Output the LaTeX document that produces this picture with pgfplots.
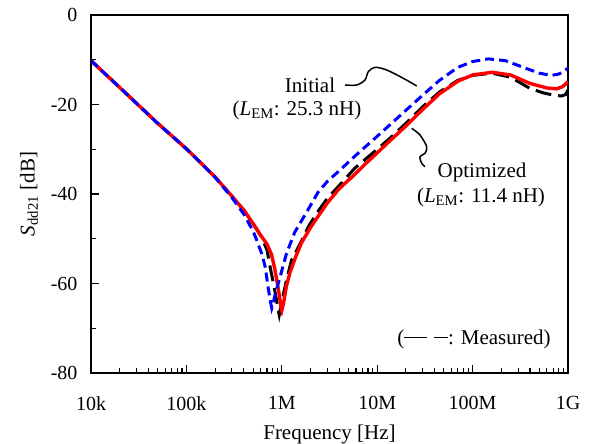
\documentclass[border=0pt]{standalone}
\usepackage{fontspec}
\setmainfont{Liberation Serif}
\usepackage{pgfplots}
\pgfplotsset{compat=1.18}
\begin{document}
\begin{tikzpicture}
\newcommand{\fs}{\fontsize{20}{24}\selectfont}
\newcommand{\fl}{\fontsize{21}{25}\selectfont}
\begin{axis}[
  scale only axis, width=477pt, height=358pt,
  xmode=log, xmin=1e4, xmax=1e9, ymin=-80, ymax=0,
  xtick={1e4,1e5,1e6,1e7,1e8,1e9},
  xticklabels={10k,100k,1M,10M,100M,1G},
  ytick={-80,-60,-40,-20,0},
  yticklabels={-80,-60,-40,-20,0},
  minor ytick={-70,-50,-30,-10},
  tick align=inside, xtick pos=bottom, ytick pos=left,
  major tick length=8pt, minor tick length=5pt,
  every tick/.style={black, line width=1.1pt},
  axis line style={line width=1.3pt},
  tick label style={font=\fs},
  yticklabel style={xshift=-10pt},
  xticklabel style={yshift=-20pt},
  label style={font=\fl},
  xlabel={Frequency [Hz]},
  xlabel style={yshift=-7pt},
  ylabel={\textit{S}\textsubscript{dd21} [dB]},
  ylabel style={yshift=6pt},
  clip=true,
]
% Measured
\addplot[black, line width=3pt, dash pattern=on 16pt off 7pt] coordinates {
(1e4,-10.2)(2e4,-16.2)(5e4,-24.2)(1e5,-29.9)(2e5,-36.2)(3e5,-40.5)(4e5,-43.6)(5e5,-46.6)(6e5,-49.3)
(7e5,-52.5)(7.5e5,-56)(8e5,-59)(8.6e5,-62.5)(9.1e5,-65.5)(9.4e5,-67)(9.8e5,-65)(1.05e6,-62)
(1.12e6,-59.2)(1.27e6,-54.7)(1.55e6,-51.2)(1.9e6,-47.3)(2.32e6,-44.3)(3e6,-41)(4e6,-38.1)
(5.85e6,-34.2)(1e7,-30)(1.4e7,-27.3)(2e7,-24.2)(3e7,-20.5)(4.5e7,-17.2)(7e7,-14.6)(1e8,-13.5)(1.6e8,-13.0)
(2.5e8,-13.9)(4e8,-16.4)(5.5e8,-17.4)(7e8,-17.9)(8.5e8,-18.1)(9.4e8,-17.8)(1e9,-16.8)
};
% Optimized
\addplot[red, line width=3.4pt] coordinates {
(1e4,-10.2)(2e4,-16.2)(5e4,-24.2)(1e5,-29.9)(2e5,-36.2)(3e5,-40.5)(4e5,-43.6)(5e5,-46.6)(6e5,-49.2)
(7e5,-51.2)(7.8e5,-53.5)(8.4e5,-56.5)(8.9e5,-59.5)(9.4e5,-62.5)(9.8e5,-65.3)(1.0e6,-66.0)
(1.04e6,-64.5)(1.12e6,-60.5)(1.22e6,-57.5)(1.4e6,-54)(1.62e6,-50.8)(2e6,-47.5)(2.4e6,-45)
(3e6,-42)(4e6,-38.8)(5.5e6,-36.1)(7.5e6,-33.3)(1e7,-30.8)(1.36e7,-28.1)(2e7,-24.8)(3e7,-21.1)
(4.5e7,-17.6)(7e7,-14.8)(1e8,-13.4)(1.6e8,-12.8)(2.5e8,-13.4)(4e8,-15.3)(6e8,-16.3)(7.6e8,-16.5)
(8.8e8,-16.0)(1e9,-14.9)
};
% Initial
\addplot[blue, line width=3pt, dash pattern=on 9pt off 5pt] coordinates {
(1e4,-10.2)(2e4,-16.2)(5e4,-24.2)(1e5,-29.9)(2e5,-36.3)(3e5,-40.8)(4e5,-44.5)(5e5,-48.3)
(5.5e5,-50.5)(6.2e5,-53.5)(6.7e5,-56.3)(7.2e5,-61)(7.6e5,-64)(7.85e5,-65.5)(8.1e5,-64.5)
(8.5e5,-62.5)(9.6e5,-58.5)(1.12e6,-53.3)(1.37e6,-48.5)(1.85e6,-43.8)(2.4e6,-39.6)(3e6,-37.2)
(4e6,-34.8)(6e6,-31.3)(1e7,-27.1)(1.4e7,-24.3)(2e7,-21.3)(3e7,-17.9)(4.5e7,-14.6)
(7e7,-11.7)(1e8,-10.4)(1.46e8,-9.8)(2.2e8,-10.2)(3.5e8,-11.8)(5e8,-13)(6.7e8,-13.5)(8e8,-13.2)
(9e8,-12.6)(1e9,-11.9)
};
\end{axis}
\begin{scope}[every node/.style={font=\fl, inner sep=0pt}]
\node at (219pt,288pt) {Initial};
\node at (206pt,263pt) {(\textit{L}\textsubscript{EM}: 25.3 nH)};
\node at (391pt,201pt) {Optimized};
\node at (390pt,176pt) {(\textit{L}\textsubscript{EM}: 11.4 nH)};
\node at (383pt,34pt) {(\rule[0.27em]{1.1em}{1.8pt}\hspace{0.33em}\rule[0.27em]{0.65em}{1.8pt}: Measured)};
\end{scope}
\draw[line width=1.5pt] plot[smooth] coordinates {(254pt,288pt)(265.7pt,288pt)(274pt,293pt)(277.3pt,301.3pt)(284pt,305.7pt)(295.7pt,303pt)(312.3pt,294.7pt)(325.7pt,287pt)};
\draw[line width=1.5pt] plot[smooth] coordinates {(320.7pt,244.7pt)(329pt,238pt)(335.7pt,226.3pt)(334pt,219.7pt)(329pt,216.3pt)(330.7pt,209.7pt)(334pt,206.3pt)};
\pgfresetboundingbox
\path[use as bounding box] (-91pt,-71pt) rectangle (498pt,373pt);
\end{tikzpicture}
\end{document}
